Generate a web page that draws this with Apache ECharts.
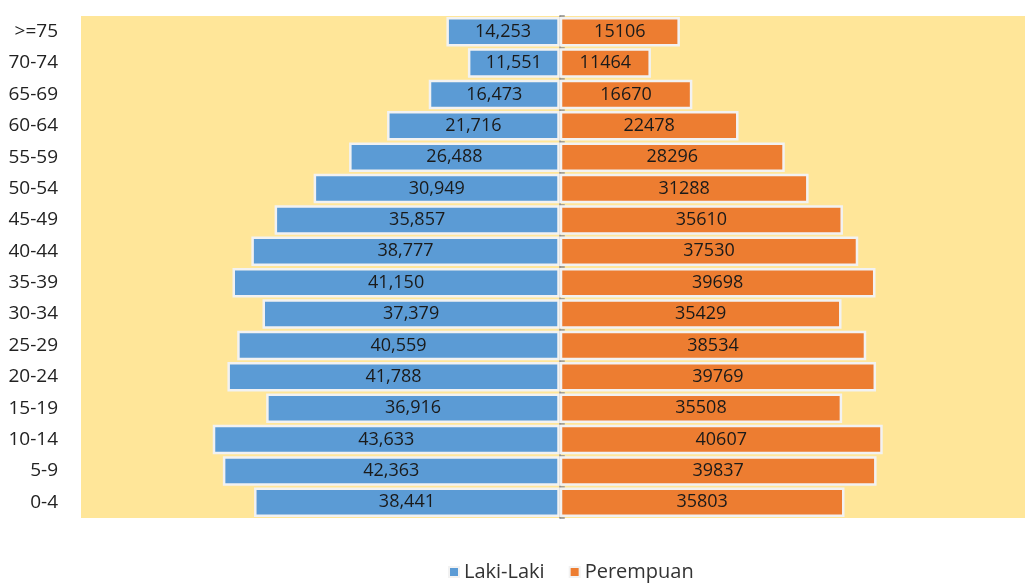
<!DOCTYPE html>
<html><head><meta charset="utf-8">
<script src="https://cdn.jsdelivr.net/npm/echarts@6/dist/echarts.min.js"></script>
<style>html,body{margin:0;padding:0;background:#fff}#c{width:1025px;height:583px}</style>
</head><body><div id="c"></div>
<script>
const categories = ['0-4','5-9','10-14','15-19','20-24','25-29','30-34','35-39','40-44','45-49','50-54','55-59','60-64','65-69','70-74','>=75'];
const laki = [38441,42363,43633,36916,41788,40559,37379,41150,38777,35857,30949,26488,21716,16473,11551,14253];
const perempuan = [35803,39837,40607,35508,39769,38534,35429,39698,37530,35610,31288,28296,22478,16670,11464,15106];
const seriesNames = ['Laki-Laki','Perempuan'];

const chart = echarts.init(document.getElementById('c'));
const font = 'Open Sans, Liberation Sans, sans-serif';
chart.setOption({
  animation:false,
  backgroundColor:'#fff',
  grid:{left:81, top:16, right:0, bottom:65, show:true, backgroundColor:'#FFE699', borderWidth:0},
  legend:{top:557, left:443, itemWidth:10, itemHeight:10, itemGap:24, icon:'rect',
    textStyle:{fontSize:20, color:'#333', fontFamily:font}, data:seriesNames},
  xAxis:{type:'value', min:-60200, max:58500, show:false},
  yAxis:[
    {type:'category', data:categories, position:'left', axisLine:{show:false, onZero:false}, axisTick:{show:false},
      axisLabel:{margin:23, fontSize:19, color:'#222', fontFamily:font}},
    {type:'category', data:categories, position:'right', axisLine:{show:true, onZero:true, lineStyle:{color:'#8c8c8c', width:1.5}},
      axisTick:{show:true, length:5, lineStyle:{color:'#8c8c8c', width:1.5}}, axisLabel:{show:false}}
  ],
  series:[
    {name:seriesNames[0], type:'bar', stack:'t', yAxisIndex:0, barCategoryGap:'6%',
      data:laki.map(v=>-v),
      itemStyle:{color:'#5B9BD5', borderColor:'#f2f2f2', borderWidth:2.5},
      label:{show:true, position:'inside', fontSize:18, color:'#1a1a1a', fontFamily:font,
        formatter:p=>Math.abs(p.value).toLocaleString('en-US')}},
    {name:seriesNames[1], type:'bar', stack:'t', yAxisIndex:0, barCategoryGap:'6%',
      data:perempuan,
      itemStyle:{color:'#ED7D31', borderColor:'#f2f2f2', borderWidth:2.5},
      label:{show:true, position:'inside', fontSize:18, color:'#1a1a1a', fontFamily:font,
        formatter:p=>String(p.value)}}
  ]
});
</script></body></html>
